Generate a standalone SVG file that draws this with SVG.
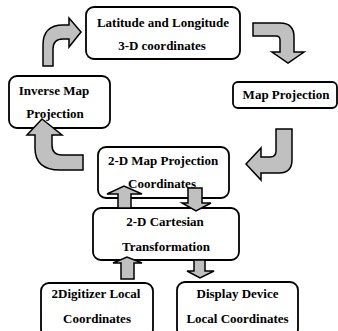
<svg xmlns="http://www.w3.org/2000/svg" width="338" height="331" viewBox="0 0 338 331">
  <style>
    .box { fill: #ffffff; stroke: #000000; stroke-width: 1.8; }
    .arrow { fill: #c0c0c0; stroke: #000000; stroke-width: 1.5; stroke-linejoin: miter; }
    .label { font-family: "Liberation Serif", "Times New Roman", serif; font-weight: bold; font-size: 13px; fill: #000000; text-anchor: middle; }
  </style>
  <rect width="338" height="331" fill="#ffffff"/>

  <g id="node-latlong">
    <rect class="box" x="86" y="7" width="154" height="52" rx="8"/>
    <text class="label" x="163" y="27">Latitude and Longitude</text>
    <text class="label" x="162" y="50">3-D coordinates</text>
  </g>

  <g id="node-inverse">
    <rect class="box" x="9" y="76" width="101" height="52" rx="8"/>
    <text class="label" x="54" y="95">Inverse Map</text>
    <text class="label" x="55" y="118">Projection</text>
  </g>

  <g id="node-mapproj">
    <rect class="box" x="233" y="82" width="104" height="26" rx="5"/>
    <text class="label" x="286" y="99">Map Projection</text>
  </g>

  <g id="node-2dmap">
    <rect class="box" x="98" y="147" width="131" height="51" rx="8"/>
    <text class="label" x="163" y="165">2-D Map Projection</text>
    <text class="label" x="162" y="188">Coordinates</text>
  </g>

  <g id="node-cartesian">
    <rect class="box" x="93" y="208" width="146" height="52" rx="8"/>
    <text class="label" x="165" y="226">2-D Cartesian</text>
    <text class="label" x="166" y="251">Transformation</text>
  </g>

  <g id="node-digitizer">
    <rect class="box" x="41" y="283" width="112" height="54" rx="8"/>
    <text class="label" x="96" y="298">2Digitizer Local</text>
    <text class="label" x="97" y="323">Coordinates</text>
  </g>

  <g id="node-display">
    <rect class="box" x="177" y="282" width="121" height="55" rx="8"/>
    <text class="label" x="237.5" y="298">Display Device</text>
    <text class="label" x="237.5" y="323">Local Coordinates</text>
  </g>

  <g id="connectors">
    <!-- inverse projection up to lat/long -->
    <path class="arrow" d="M43,66 L43,45 Q43,25 63,25 L69,25 L69,18 L81,32 L69,47 L69,39 L63,39 Q53,39 53,49 L53,66 Z"/>
    <!-- lat/long down to map projection -->
    <path class="arrow" d="M253,23 L280,23 Q294,23 294,37 L294,52 L304,52 L288,63 L272,52 L280,52 L280,40 Q280,36 276,36 L253,36 Z"/>
    <!-- map projection down to 2-D map coordinates -->
    <path class="arrow" d="M276,129 L292,129 L292,160 Q292,173 279,173 L261,173 L261,180 L246,164 L261,148 L261,157 L270,157 Q276,157 276,151 Z"/>
    <!-- 2-D map coordinates back to inverse projection -->
    <path class="arrow" d="M83,170 L60,170 Q35,170 35,148 L35,135 L27,135 L42,119 L62,135 L52,135 L52,145 Q52,155 62,155 L83,155 Z"/>
    <!-- cartesian up to 2-D map -->
    <path class="arrow" d="M118,208 L118,194 L107,194 L124,186 L142,194 L131,194 L131,208 Z"/>
    <!-- 2-D map down to cartesian -->
    <path class="arrow" d="M188,188 L202,188 L202,203 L211,203 L196,211 L182,203 L188,203 Z"/>
    <!-- digitizer up to cartesian -->
    <path class="arrow" d="M121,279 L121,263 L113,263 L127,257 L142,263 L134,263 L134,279 Z"/>
    <!-- cartesian down to display -->
    <path class="arrow" d="M194,260 L205,260 L205,271 L214,271 L200,278 L187,271 L194,271 Z"/>
  </g>
</svg>
